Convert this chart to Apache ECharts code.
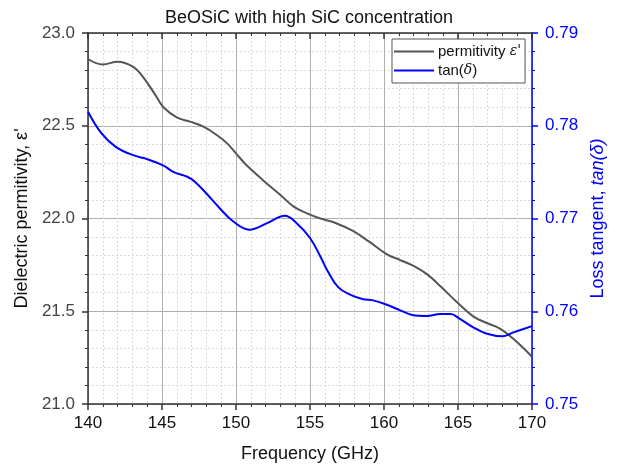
<!DOCTYPE html>
<html><head><meta charset="utf-8">
<script src="https://cdn.jsdelivr.net/npm/echarts@6/dist/echarts.min.js"></script>
</head><body style="margin:0;background:#fff">
<div id="c" style="width:618px;height:470px"></div>
<script>
const permFreq = [140.0,141.0,142.0,143.0,143.7,144.6,145.1,146.0,146.9,147.8,148.7,149.4,150.0,150.7,151.8,153.0,153.9,154.8,155.7,156.6,157.9,159.0,160.2,161.1,162.0,162.9,163.8,164.9,166.0,166.9,167.8,168.7,170.0];
const permValues = [22.86,22.83,22.845,22.82,22.765,22.66,22.60,22.545,22.522,22.495,22.45,22.405,22.351,22.288,22.208,22.127,22.064,22.028,22.00,21.98,21.933,21.875,21.807,21.776,21.744,21.70,21.636,21.551,21.474,21.438,21.408,21.354,21.255];
const tanFreq = [140.0,140.9,141.9,143.1,144.0,145.1,145.8,146.7,147.2,148.0,148.9,149.8,150.9,152.1,153.3,154.1,155.0,155.7,156.2,156.9,157.7,158.6,159.2,160.2,161.1,161.9,162.9,163.8,164.5,165.1,166.0,166.9,168.0,168.7,170.0];
const tanValues = [0.7815,0.7792,0.7777,0.7768,0.7764,0.7757,0.7750,0.7745,0.7740,0.7727,0.7711,0.7697,0.7688,0.7695,0.7703,0.7695,0.7679,0.7659,0.7643,0.7626,0.7618,0.7613,0.7612,0.7607,0.7601,0.7596,0.7595,0.7597,0.7597,0.7592,0.7583,0.7576,0.7573,0.7577,0.7584];
const xTicks = [140,145,150,155,160,165,170];
const leftTicks = [21.0,21.5,22.0,22.5,23.0];
const rightTicks = [0.75,0.76,0.77,0.78,0.79];

const FONT = '"Liberation Sans", Arial, sans-serif';
const chart = echarts.init(document.getElementById('c'), null, {renderer:'canvas'});
const permData = permFreq.map((f,i)=>[f,permValues[i]]);
const tanData = tanFreq.map((f,i)=>[f,tanValues[i]]);
chart.setOption({
  animation:false,
  textStyle:{fontFamily:FONT},
  title:{text:'BeOSiC with high SiC concentration',left:'center',top:4,
    textStyle:{fontFamily:FONT,fontSize:18,fontWeight:'normal',color:'#111'}},
  grid:{left:88,right:86,top:33,bottom:66},
  legend:{
    left:392,top:39,orient:'vertical',
    backgroundColor:'#fff',borderColor:'#555',borderWidth:1,borderRadius:0,
    padding:[5,4,5,2],itemGap:4,itemWidth:40,itemHeight:14,
    data:[{name:'perm',icon:'path://M0,6 L40,6 L40,8 L0,8 Z'},{name:'tan',icon:'path://M0,6 L40,6 L40,8 L0,8 Z'}],
    formatter:function(n){return n==='perm' ? 'permitivity {e|ε\'}' : 'tan({e|δ})';},
    textStyle:{fontFamily:FONT,fontSize:15,color:'#111',padding:[0,0,0,-1],
      rich:{e:{fontFamily:'"DejaVu Serif", serif',fontStyle:'italic',fontSize:14,color:'#111'}}}
  },
  xAxis:[{
    type:'value',min:140,max:170,interval:5,position:'bottom',
    name:'Frequency (GHz)',nameLocation:'middle',nameGap:41,
    nameTextStyle:{fontFamily:FONT,fontSize:18,color:'#111'},
    axisLine:{show:true,lineStyle:{color:'#333',width:1.5}},
    axisTick:{show:true,inside:false,length:6,lineStyle:{color:'#333',width:1.5}},
    minorTick:{show:true,splitNumber:5,length:3,lineStyle:{color:'#333',width:1}},
    axisLabel:{fontFamily:FONT,fontSize:17,color:'#111',margin:11,
      formatter:function(v){return xTicks.indexOf(v)>=0?String(v):'';}},
    splitLine:{show:true,lineStyle:{color:'#b0b0b0',width:1}},
    minorSplitLine:{show:true,lineStyle:{color:'#dcdcdc',width:1,type:[2,2]}}
  },{
    type:'value',min:140,max:170,interval:5,position:'top',
    axisLine:{show:true,lineStyle:{color:'#333',width:1.5}},
    axisTick:{show:true,inside:true,length:6,lineStyle:{color:'#333',width:1.5}},
    minorTick:{show:true,splitNumber:5,length:3,lineStyle:{color:'#333',width:1}},
    axisLabel:{show:false},splitLine:{show:false}
  }],
  yAxis:[{
    type:'value',min:21,max:23,interval:0.5,position:'left',
    name:'Dielectric permitivity, ε\'',nameLocation:'middle',nameGap:56,
    nameTextStyle:{fontFamily:FONT,fontSize:18,color:'#111'},
    axisLine:{show:true,lineStyle:{color:'#333',width:1.5}},
    axisTick:{show:true,inside:false,length:6,lineStyle:{color:'#333',width:1.5}},
    minorTick:{show:true,splitNumber:5,length:3,lineStyle:{color:'#333',width:1}},
    axisLabel:{fontFamily:FONT,fontSize:17,color:'#444',margin:13,
      formatter:function(v){return leftTicks.some(t=>Math.abs(t-v)<1e-9)?v.toFixed(1):'';}},
    splitLine:{show:true,lineStyle:{color:'#b0b0b0',width:1}},
    minorSplitLine:{show:true,lineStyle:{color:'#dcdcdc',width:1,type:[2,2]}}
  },{
    type:'value',min:0.75,max:0.79,interval:0.01,position:'right',
    name:'Loss tangent, {i|tan(δ)}',nameLocation:'middle',nameGap:55,
    nameTextStyle:{fontFamily:FONT,fontSize:18,color:'#0000ff',
      rich:{i:{fontFamily:FONT,fontStyle:'italic',fontSize:18,color:'#0000ff'}}},
    axisLine:{show:true,lineStyle:{color:'#0000ff',width:1.5}},
    axisTick:{show:true,inside:false,length:6,lineStyle:{color:'#0000ff',width:1.5}},
    minorTick:{show:true,splitNumber:5,length:3,lineStyle:{color:'#0000ff',width:1}},
    axisLabel:{fontFamily:FONT,fontSize:17,color:'#0000ff',margin:13,
      formatter:function(v){return rightTicks.some(t=>Math.abs(t-v)<1e-9)?v.toFixed(2):'';}},
    splitLine:{show:false},minorSplitLine:{show:false}
  }],
  series:[{
    name:'perm',type:'line',xAxisIndex:0,yAxisIndex:0,data:permData,smooth:0.4,showSymbol:false,
    lineStyle:{color:'#555',width:2},itemStyle:{color:'#555'}
  },{
    name:'tan',type:'line',xAxisIndex:0,yAxisIndex:1,data:tanData,smooth:0.4,showSymbol:false,
    lineStyle:{color:'#0000ff',width:2},itemStyle:{color:'#0000ff'}
  }]
});
</script>
</body></html>
